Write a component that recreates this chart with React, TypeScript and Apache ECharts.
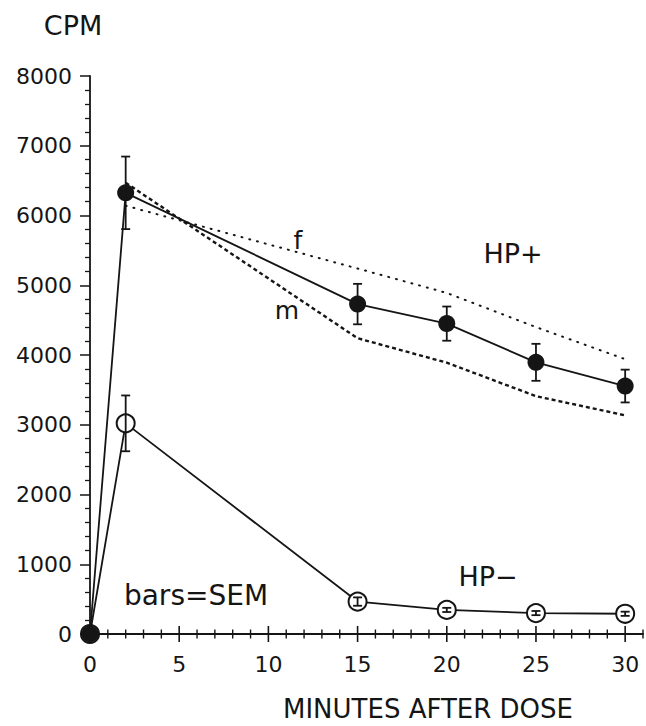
import React, { useEffect, useRef } from "react";
import * as echarts from "echarts";

// ---- data ----
const hpPlus: [number, number][] = [
  [0, 0],
  [2, 6325],
  [15, 4730],
  [20, 4450],
  [25, 3895],
  [30, 3555],
];
const hpPlusSem: number[] = [0, 520, 290, 245, 265, 235];

const hpMinus: [number, number][] = [
  [0, 0],
  [2, 3020],
  [15, 465],
  [20, 345],
  [25, 300],
  [30, 290],
];
const hpMinusSem: number[] = [0, 400, 60, 30, 30, 30];

const female: [number, number][] = [
  [2, 6140],
  [15, 5240],
  [20, 4890],
  [25, 4400],
  [30, 3940],
];
const male: [number, number][] = [
  [2, 6470],
  [15, 4240],
  [20, 3890],
  [25, 3410],
  [30, 3135],
];

const xMajorTicks = [0, 5, 10, 15, 20, 25, 30];
const xMinorTicks = [1, 2, 3, 4, 6, 7, 8, 9, 11, 12, 13, 14, 16, 17, 18, 19, 21, 22, 23, 24, 26, 27, 28, 29, 31];

const INK = "#151515";
const FONT = "DejaVu Sans";

export default function App() {
  const ref = useRef<HTMLDivElement>(null);

  useEffect(() => {
    if (!ref.current) return;
    const chart = echarts.init(ref.current, undefined, { renderer: "svg" });

    const errData = (pts: [number, number][], sem: number[]) =>
      pts.map((p, i) => [p[0], p[1], sem[i]]).filter((d) => d[2] > 0);

    const renderErr = (params: any, api: any) => {
      const x = api.value(0);
      const y = api.value(1);
      const e = api.value(2);
      const top = api.coord([x, y + e]);
      const bot = api.coord([x, y - e]);
      const hw = 4.5;
      const st = { stroke: INK, lineWidth: 1.8 };
      return {
        type: "group",
        children: [
          { type: "line", shape: { x1: top[0], y1: top[1], x2: bot[0], y2: bot[1] }, style: st },
          { type: "line", shape: { x1: top[0] - hw, y1: top[1], x2: top[0] + hw, y2: top[1] }, style: st },
          { type: "line", shape: { x1: bot[0] - hw, y1: bot[1], x2: bot[0] + hw, y2: bot[1] }, style: st },
        ],
      };
    };

    // crossing tick marks on the x axis, placed through the axis scale
    const renderTick = (half: number, width: number) => (params: any, api: any) => {
      const p = api.coord([api.value(0), api.value(1)]);
      return {
        type: "line",
        shape: { x1: p[0], y1: p[1] - half, x2: p[0], y2: p[1] + half },
        style: { stroke: INK, lineWidth: width },
      };
    };

    const option: any = {
      animation: false,
      backgroundColor: "#ffffff",
      grid: { left: 90, right: 3, top: 76, bottom: 92, containLabel: false },
      xAxis: {
        type: "value",
        min: 0,
        max: 31,
        splitLine: { show: false },
        axisLine: { show: true, onZero: false, lineStyle: { color: INK, width: 1.8 } },
        axisTick: { show: false },
        axisLabel: {
          show: true,
          customValues: xMajorTicks,
          margin: 19,
          color: INK,
          fontFamily: FONT,
          fontSize: 22,
        },
      },
      yAxis: {
        type: "value",
        min: 0,
        max: 8000,
        interval: 1000,
        splitLine: { show: false },
        axisLine: { show: true, onZero: false, lineStyle: { color: INK, width: 1.8 } },
        axisTick: { show: true, inside: false, length: 10, lineStyle: { color: INK, width: 1.5 } },
        minorTick: { show: true, splitNumber: 5, length: 5, lineStyle: { color: INK, width: 1.3 } },
        minorSplitLine: { show: false },
        axisLabel: {
          margin: 18,
          color: INK,
          fontFamily: FONT,
          fontSize: 22,
          formatter: (v: number) => String(v),
        },
      },
      series: [
        {
          name: "x major ticks",
          type: "custom",
          data: xMajorTicks.map((v) => [v, 0]),
          renderItem: renderTick(8, 1.6),
          clip: false,
          silent: true,
          z: 1,
        },
        {
          name: "x minor ticks",
          type: "custom",
          data: xMinorTicks.map((v) => [v, 0]),
          renderItem: renderTick(4.5, 1.4),
          clip: false,
          silent: true,
          z: 1,
        },
        {
          name: "f",
          type: "line",
          data: female,
          symbol: "none",
          lineStyle: { color: INK, width: 2, type: [1, 7], cap: "round" },
          z: 2,
        },
        {
          name: "m",
          type: "line",
          data: male,
          symbol: "none",
          lineStyle: { color: INK, width: 2.4, type: [4, 3] },
          z: 2,
        },
        {
          name: "HP-",
          type: "line",
          data: hpMinus,
          symbol: "emptyCircle",
          symbolSize: 18,
          itemStyle: { color: INK, borderColor: INK, borderWidth: 1.6 },
          lineStyle: { color: INK, width: 1.8 },
          z: 3,
        },
        {
          name: "HP+",
          type: "line",
          data: hpPlus,
          symbol: "circle",
          symbolSize: 17,
          itemStyle: { color: INK },
          lineStyle: { color: INK, width: 1.8 },
          z: 4,
        },
        {
          name: "HP+ SEM",
          type: "custom",
          data: errData(hpPlus, hpPlusSem),
          renderItem: renderErr,
          z: 5,
        },
        {
          name: "HP- SEM",
          type: "custom",
          data: errData(hpMinus, hpMinusSem),
          renderItem: renderErr,
          z: 5,
        },
      ],
      graphic: [
        { type: "text", x: 73, y: 25, style: { text: "CPM", font: `27px "${FONT}"`, fill: INK, textAlign: "center", textVerticalAlign: "middle" } },
        { type: "text", x: 298, y: 240, style: { text: "f", font: `25px "${FONT}"`, fill: INK, textAlign: "center", textVerticalAlign: "middle" } },
        { type: "text", x: 287, y: 310, style: { text: "m", font: `25px "${FONT}"`, fill: INK, textAlign: "center", textVerticalAlign: "middle" } },
        { type: "text", x: 513, y: 253, style: { text: "HP+", font: `27px "${FONT}"`, fill: INK, textAlign: "center", textVerticalAlign: "middle" } },
        { type: "text", x: 488, y: 576, style: { text: "HP−", font: `27px "${FONT}"`, fill: INK, textAlign: "center", textVerticalAlign: "middle" } },
        { type: "text", x: 196, y: 595, style: { text: "bars=SEM", font: `28px "${FONT}"`, fill: INK, textAlign: "center", textVerticalAlign: "middle" } },
        { type: "text", x: 428, y: 709, style: { text: "MINUTES AFTER DOSE", font: `26px "${FONT}"`, fill: INK, textAlign: "center", textVerticalAlign: "middle" } },
      ],
    };

    chart.setOption(option);
    return () => chart.dispose();
  }, []);

  return (
    <div
      ref={ref}
      style={{ position: "fixed", left: 0, top: 0, width: 646, height: 726, background: "#fff" }}
    />
  );
}
